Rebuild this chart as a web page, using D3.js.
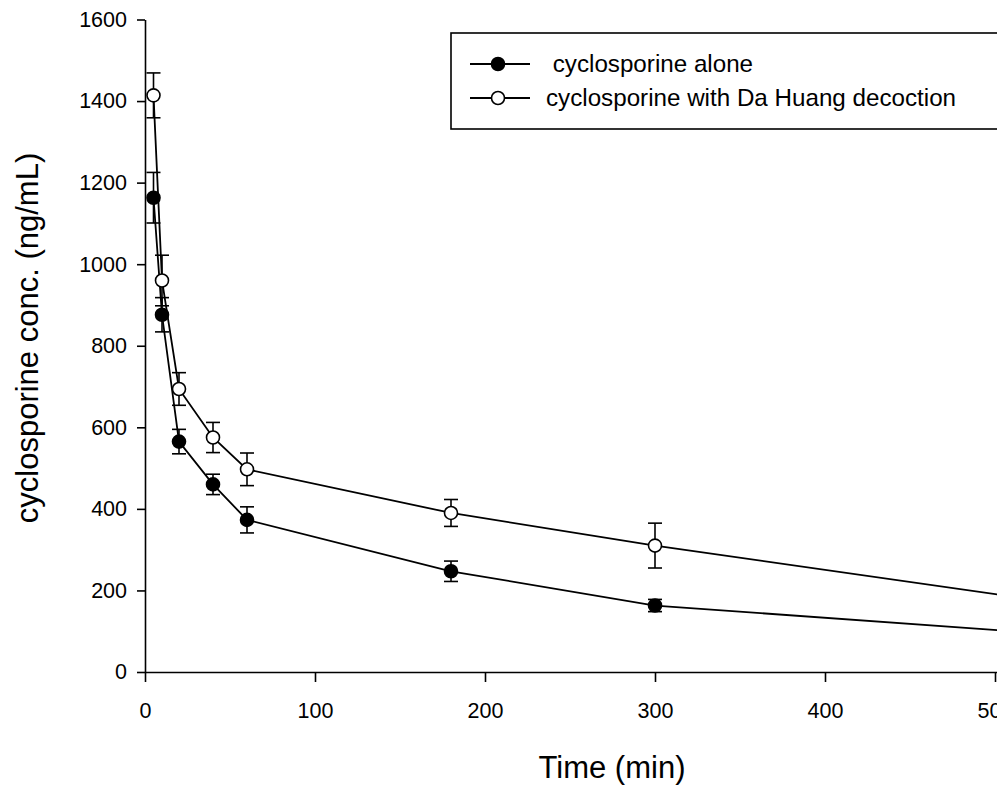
<!DOCTYPE html>
<html lang="en">
<head>
    <meta charset="UTF-8">
    <title>Cyclosporine concentration</title>
    <script src="https://d3js.org/d3.v7.min.js"></script>
    <style>
        body {
            margin: 0;
            background-color: #fff;
            overflow: hidden;
        }
        svg {
            display: block;
            font-family: "Liberation Sans", Arial, sans-serif;
        }
        .axis path, .axis line {
            stroke: #000;
            stroke-width: 1.6px;
        }
        .axis text {
            font-size: 21.5px;
            fill: #000;
        }
    </style>
</head>
<body>
    <div id="chart"></div>

    <script>
        // Data
        const times = [5, 10, 20, 40, 60, 180, 300, 720];
        const aloneMean = [1163, 876, 565, 460, 373, 247, 163, 37];
        const aloneErr = [62, 42, 30, 25, 32, 25, 15, 10];
        const daHuangMean = [1414, 960, 694, 575, 497, 390, 310, 60];
        const daHuangErr = [55, 62, 40, 37, 40, 33, 55, 10];
        const xTicks = [0, 100, 200, 300, 400, 500, 600];
        const yTicks = [0, 200, 400, 600, 800, 1000, 1200, 1400, 1600];
        const seriesNames = [" cyclosporine alone", "cyclosporine with Da Huang decoction"];

        const width = 997;
        const height = 785;

        const svg = d3.select("#chart")
            .append("svg")
            .attr("width", width)
            .attr("height", height);

        // Scales (the original figure is cropped on the right)
        const x = d3.scaleLinear().domain([0, 600]).range([145, 1165]);
        const y = d3.scaleLinear().domain([0, 1600]).range([672, 19.5]);

        // Axes
        svg.append("g")
            .attr("class", "axis")
            .attr("transform", `translate(0, ${y(0)})`)
            .call(d3.axisBottom(x).tickValues(xTicks).tickFormat(d3.format("d"))
                .tickSize(10).tickSizeOuter(0).tickPadding(21));

        svg.append("g")
            .attr("class", "axis")
            .attr("transform", `translate(${x(0)}, 0)`)
            .call(d3.axisLeft(y).tickValues(yTicks).tickFormat(d3.format("d"))
                .tickSize(8).tickSizeOuter(0).tickPadding(10));

        // Axis titles
        svg.append("text")
            .attr("x", 612)
            .attr("y", 778)
            .attr("text-anchor", "middle")
            .attr("font-size", 31)
            .text("Time (min)");

        svg.append("text")
            .attr("transform", `translate(38, 338) rotate(-90)`)
            .attr("text-anchor", "middle")
            .attr("font-size", 31)
            .text("cyclosporine conc. (ng/mL)");

        const series = [
            { name: seriesNames[0], mean: aloneMean, err: aloneErr, fill: "#000" },
            { name: seriesNames[1], mean: daHuangMean, err: daHuangErr, fill: "#fff" }
        ];

        const line = d3.line()
            .x(d => x(d.t))
            .y(d => y(d.v));

        series.forEach(s => {
            const pts = times.map((t, i) => ({ t: t, v: s.mean[i], e: s.err[i] }));

            svg.append("path")
                .datum(pts)
                .attr("d", line)
                .attr("fill", "none")
                .attr("stroke", "#000")
                .attr("stroke-width", 1.8);

            // error bars
            const eb = svg.append("g").selectAll("g")
                .data(pts)
                .join("g")
                .attr("stroke", "#000")
                .attr("stroke-width", 1.6);

            eb.append("line")
                .attr("x1", d => x(d.t)).attr("x2", d => x(d.t))
                .attr("y1", d => y(d.v + d.e)).attr("y2", d => y(d.v - d.e));
            eb.append("line")
                .attr("x1", d => x(d.t) - 7).attr("x2", d => x(d.t) + 7)
                .attr("y1", d => y(d.v + d.e)).attr("y2", d => y(d.v + d.e));
            eb.append("line")
                .attr("x1", d => x(d.t) - 7).attr("x2", d => x(d.t) + 7)
                .attr("y1", d => y(d.v - d.e)).attr("y2", d => y(d.v - d.e));

            s.pts = pts;
        });

        // markers on top
        series.forEach(s => {
            svg.append("g").selectAll("circle")
                .data(s.pts)
                .join("circle")
                .attr("cx", d => x(d.t))
                .attr("cy", d => y(d.v))
                .attr("r", 6.5)
                .attr("fill", s.fill)
                .attr("stroke", "#000")
                .attr("stroke-width", 1.6);
        });

        // Legend
        const legend = svg.append("g");
        legend.append("rect")
            .attr("x", 451)
            .attr("y", 33)
            .attr("width", 600)
            .attr("height", 96)
            .attr("fill", "#fff")
            .attr("stroke", "#000")
            .attr("stroke-width", 1.6);

        const legendY = [64, 98];
        const legendTextX = [546, 546];
        series.forEach((s, i) => {
            legend.append("line")
                .attr("x1", 470).attr("x2", 530)
                .attr("y1", legendY[i]).attr("y2", legendY[i])
                .attr("stroke", "#000")
                .attr("stroke-width", 1.8);
            legend.append("circle")
                .attr("cx", 498)
                .attr("cy", legendY[i])
                .attr("r", 6.5)
                .attr("fill", s.fill)
                .attr("stroke", "#000")
                .attr("stroke-width", 1.6);
            legend.append("text")
                .attr("x", legendTextX[i])
                .attr("y", legendY[i] + 8)
                .attr("font-size", 24.2)
                .attr("xml:space", "preserve")
                .style("white-space", "pre")
                .text(s.name);
        });
    </script>
</body>
</html>
